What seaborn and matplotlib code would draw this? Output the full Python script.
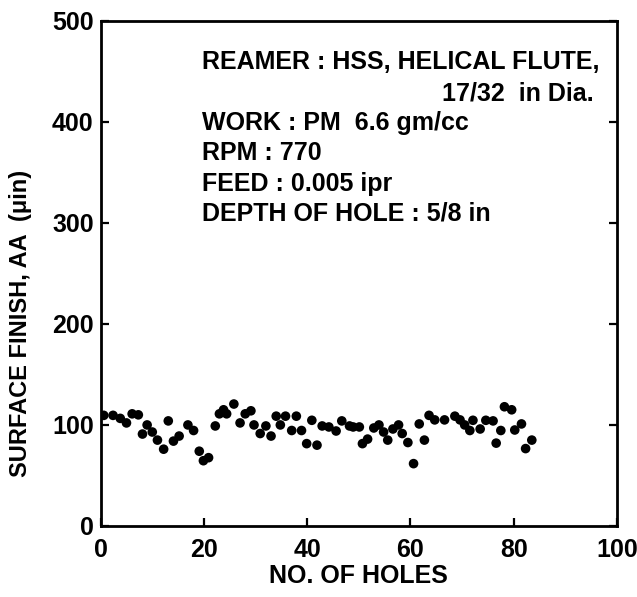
import matplotlib
matplotlib.use("Agg")
import matplotlib.pyplot as plt
import seaborn as sns
import pandas as pd

# Hole number and measured surface finish (AA, micro-inch)
holes = [0.6, 2.4, 3.8, 5.0, 6.1, 7.3, 8.1, 9.0, 10.0, 11.0, 12.2, 13.1, 14.1, 15.2,
         16.9, 18.0, 19.1, 19.9, 20.9, 22.2, 23.0, 23.8, 24.4, 25.8, 27.0, 28.0, 29.1,
         29.7, 30.9, 32.0, 33.0, 34.0, 34.8, 35.8, 37.0, 37.9, 38.9, 39.9, 40.9, 41.9,
         42.9, 44.2, 45.6, 46.7, 48.2, 48.9, 50.1, 50.7, 51.7, 52.9, 53.9, 54.8, 55.6,
         56.6, 57.7, 58.4, 59.5, 60.6, 61.7, 62.7, 63.6, 64.7, 66.6, 68.6, 69.6, 70.5,
         71.5, 72.1, 73.5, 74.6, 76.0, 76.6, 77.5, 78.2, 79.6, 80.2, 81.5, 82.3, 83.5]
finish = [109.5, 109.5, 106.5, 102, 111, 110, 91, 100, 93, 85, 76, 104, 84, 89,
          100, 94.5, 74, 64.6, 67.6, 99, 111, 115, 111, 120.7, 102, 111, 114,
          100, 91.5, 99, 89, 108.7, 100, 108.7, 94.5, 108.7, 94.5, 81.5, 104.6, 80,
          99, 98, 94, 104, 99, 98, 98, 81.5, 86, 97, 100, 93, 85,
          96, 100, 91.5, 82.6, 61.7, 101, 85, 109.5, 105, 105, 108.7, 105, 100,
          94.5, 104.6, 96, 104.6, 104, 82, 94.5, 118, 115, 95, 101, 76.6, 85]

x_ticks = [0, 20, 40, 60, 80, 100]
y_ticks = [0, 100, 200, 300, 400, 500]

notes_left = ["REAMER : HSS, HELICAL FLUTE,", "WORK : PM  6.6 gm/cc", "RPM : 770",
              "FEED : 0.005 ipr", "DEPTH OF HOLE : 5/8 in"]
note_right = "17/32  in Dia."

sns.set_theme(style="white")
plt.rcParams["font.family"] = ["Liberation Sans", "DejaVu Sans"]
plt.rcParams["font.weight"] = "bold"
plt.rcParams["text.color"] = "black"
plt.rcParams["axes.labelcolor"] = "black"

df = pd.DataFrame({"holes": holes, "finish": finish})

fig = plt.figure(figsize=(6.37, 5.97), dpi=100)
ax = fig.add_axes([0.158, 0.119, 0.8106, 0.846])

sns.scatterplot(data=df, x="holes", y="finish", ax=ax, color="black",
                s=48, edgecolor="none", linewidth=0)

ax.set_xlim(0, 100)
ax.set_ylim(0, 500)
ax.set_xticks(x_ticks)
ax.set_yticks(y_ticks)
ax.tick_params(axis="both", direction="in", length=6, width=1.6, colors="black",
               labelsize=18)
ax.tick_params(axis="y", right=True, left=True, pad=5)
ax.tick_params(axis="x", bottom=True, pad=9)
for lab in ax.get_xticklabels() + ax.get_yticklabels():
    lab.set_fontweight("bold")
for sp in ax.spines.values():
    sp.set_color("black")
    sp.set_linewidth(2.0)

ax.set_xlabel("NO. OF HOLES", fontsize=18, fontweight="bold", labelpad=1)
ax.set_ylabel("SURFACE FINISH, AA  (\u03bcin)", fontsize=17, fontweight="bold")
ax.yaxis.set_label_coords(-0.133, 0.40)

ax.text(19.6, 459, notes_left[0], fontsize=18, fontweight="bold", va="center", ha="left")
ax.text(95.4, 428, note_right, fontsize=18, fontweight="bold", va="center", ha="right")
for txt, yv in zip(notes_left[1:], [399, 369, 339, 309]):
    ax.text(19.6, yv, txt, fontsize=18, fontweight="bold", va="center", ha="left")

fig.savefig("out.png", dpi=100, facecolor="white")
